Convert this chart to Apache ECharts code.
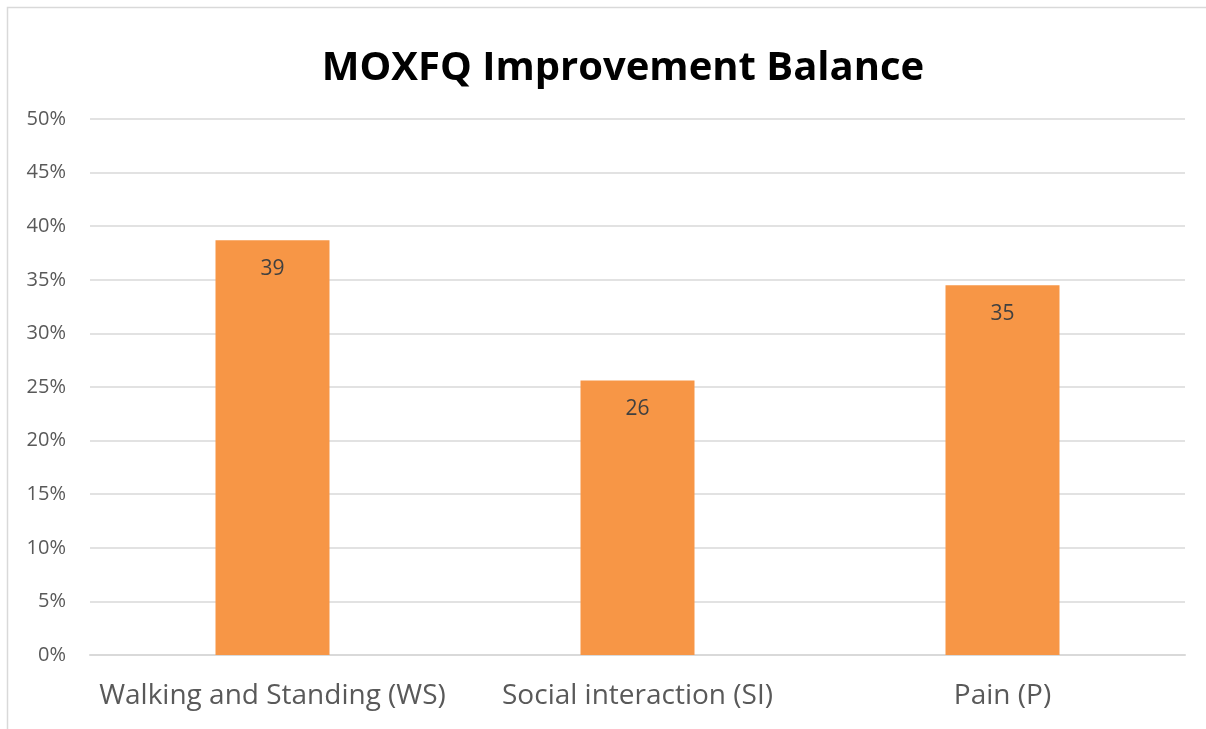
<!DOCTYPE html>
<html>
<head>
<meta charset="utf-8">
<script src="https://cdn.jsdelivr.net/npm/echarts@6/dist/echarts.min.js"></script>
<style>
html,body{margin:0;padding:0;background:#fff;}
#chart{width:1206px;height:729px;}
</style>
</head>
<body>
<div id="chart"></div>
<script>
const categories = ['Walking and Standing (WS)', 'Social interaction (SI)', 'Pain (P)'];
const values = [38.7, 25.6, 34.5];
const labels = ['39', '26', '35'];
const titleText = 'MOXFQ Improvement Balance';

const chart = echarts.init(document.getElementById('chart'), null, {renderer: 'canvas'});
chart.setOption({
  animation: false,
  backgroundColor: '#ffffff',
  title: {
    text: titleText,
    left: 618,
    textAlign: 'center',
    top: 44,
    textStyle: {fontFamily: '"Open Sans", "Noto Sans", sans-serif', fontWeight: 'bold', fontSize: 40, color: '#000000'}
  },
  graphic: [{
    type: 'rect',
    shape: {x: 7.5, y: 7.5, width: 1400, height: 900},
    style: {fill: 'none', stroke: '#d9d9d9', lineWidth: 1.5},
    silent: true
  }],
  grid: {left: 90, right: 21, top: 119, bottom: 74, containLabel: false},
  xAxis: {
    type: 'category',
    data: categories,
    axisLine: {show: true, lineStyle: {color: '#d9d9d9', width: 2}},
    axisTick: {show: false},
    axisLabel: {interval: 0, color: '#595959', fontSize: 28, fontFamily: '"Open Sans", "Noto Sans", sans-serif', margin: 27}
  },
  yAxis: {
    type: 'value',
    min: 0, max: 50, interval: 5,
    axisLine: {show: false},
    axisTick: {show: false},
    splitLine: {lineStyle: {color: '#d9d9d9', width: 1.5}},
    axisLabel: {color: '#595959', fontSize: 20, fontFamily: '"Open Sans", "Noto Sans", sans-serif', margin: 24, formatter: '{value}%'}
  },
  series: [{
    type: 'bar',
    data: values,
    barWidth: 114,
    itemStyle: {color: '#F79646'},
    label: {
      show: true,
      position: 'insideTop',
      distance: 18,
      color: '#404040',
      fontSize: 21,
      fontFamily: '"Open Sans", "Noto Sans", sans-serif',
      formatter: p => labels[p.dataIndex]
    }
  }]
});
</script>
</body>
</html>
